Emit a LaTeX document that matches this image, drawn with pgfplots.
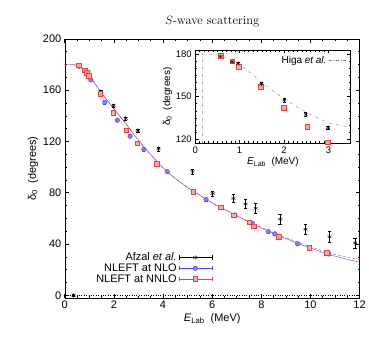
\documentclass[border=0pt]{standalone}
\usepackage{pgfplots}
\pgfplotsset{compat=1.18}
\usepackage{fontspec}
\setsansfont{Liberation Sans}
\definecolor{nblue}{RGB}{70,70,255}
\definecolor{nred}{RGB}{250,60,60}
\pgfplotsset{errleg/.style={legend image code/.code={%
  \draw[##1,mark=none,solid] (0pt,-2.2pt)--(0pt,2.2pt) (0pt,0pt)--(33pt,0pt) (33pt,-2.2pt)--(33pt,2.2pt);
  \draw[##1,only marks] plot coordinates {(16.5pt,0pt)};}}}
\begin{document}
\begin{tikzpicture}
\begin{axis}[name=main, scale only axis, width=296pt, height=260pt,
  xmin=0, xmax=12, ymin=-2, ymax=200,
  xtick={0,2,...,12}, ytick={0,40,...,200},
  minor x tick num=3, minor y tick num=3,
  tick align=inside, major tick length=4pt, minor tick length=2pt,
  tick style={black, line width=0.5pt},
  /pgf/number format/assume math mode=true,
  tick label style={font=\sffamily\fontsize{11}{13}\selectfont},
  label style={font=\sffamily\fontsize{11}{13}\selectfont},
  title={$S$-wave scattering},
  title style={font=\fontsize{12.5}{14}\selectfont, yshift=2pt},
  xlabel={\textit{E}\textsubscript{Lab}\ \ (MeV)},
  ylabel={δ\textsubscript{0}\ \ (degrees)},
  xlabel style={yshift=2pt},
  ylabel style={yshift=-2pt},
  legend style={draw=none, fill=none, at={(rel axis cs:0.51,0.19)}, anchor=north east,
    font=\sffamily\fontsize{11}{11}\selectfont, row sep=-2.5pt},
  legend cell align=right, legend plot pos=right,
]
\addplot[black, dotted, forget plot] coordinates {(0,0) (12,0)};
\addplot[nblue, thin, forget plot] coordinates {
(0,180)(0.3,180)(0.5,179.3)(0.75,176.5)(1,171)(1.25,164.5)(1.5,157.5)(2,145.5)(2.5,133.5)(3,121)(3.5,109.5)(4,99.5)(4.5,91)(5,84)(5.5,78)(6,72)(6.5,67)(7,62)(7.5,57)(8,52.5)(8.5,48.2)(9,44.2)(9.5,40.3)(10,36.8)(10.5,33.5)(11,30.5)(11.5,28)(12,25.8)};
\addplot[nred, densely dashed, forget plot] coordinates {
(0,180)(0.3,180)(0.5,179.5)(0.75,176.5)(1,171)(1.25,164.5)(1.5,157.5)(2,145.5)(2.5,133.5)(3,121)(3.5,109.5)(4,99.5)(4.5,91)(5,84)(5.5,78)(6,72)(6.5,67)(7,62.2)(7.5,57.4)(8,53)(8.5,48.8)(9,44.9)(9.5,41.2)(10,37.8)(10.5,34.7)(11,31.8)(11.5,29.8)(12,27.8)};
\addplot[black, only marks, mark=asterisk, mark size=2.3pt, errleg,
  error bars/.cd, y dir=both, y explicit, error mark options={rotate=90, mark size=1.8pt}]
  table[x=x, y=y, y error=e] {
x y e
0.36 0 0.5
0.58 178.6 1
0.83 174.6 1
0.97 173.4 1
1.47 158.8 1.2
1.99 147.7 1.2
2.48 137.9 1.2
2.97 128.4 1.2
3.82 114.2 1.5
5.20 96.6 1.8
6.02 79.4 2
6.87 75.5 3
7.36 71.1 3.5
7.77 67.8 4
8.77 59.3 4
9.80 51.5 4
10.78 45.6 4
11.82 40.8 4
};
\addlegendentry{Afzal \textit{et al.}}
\addplot[nblue, only marks, mark=*, mark size=2.3pt, mark options={fill=nblue!70}, errleg,
  error bars/.cd, y dir=both, y explicit, error mark options={rotate=90, mark size=1.6pt}]
  table[x=x, y=y, y error=e] {
x y e
0.59 178.6 1
0.85 174.5 1
0.94 172.0 1
1.06 168.0 1
1.63 150.5 1.5
2.14 136.5 1
2.66 124.0 1
3.22 113.7 1
4.17 96.5 1
5.75 74.7 1
6.92 62.6 1
7.64 56.0 1
8.28 49.7 1
8.55 47.9 1
9.48 40.2 1
10.75 32.2 1
};
\addlegendentry{NLEFT at NLO}
\addplot[nred, only marks, mark=square*, mark size=2.3pt, mark options={fill=nred!45}, errleg,
  error bars/.cd, y dir=both, y explicit, error mark options={rotate=90, mark size=1.6pt}]
  table[x=x, y=y, y error=e] {
x y e
0.57 179.3 1
0.81 175.5 1
0.90 173.5 1
0.98 171.2 1
1.45 157.2 1.5
1.97 142.3 1.5
2.50 128.8 1.5
2.95 118.5 1.5
3.75 102.6 1
5.22 80.7 1.5
6.34 68.6 1
6.88 62.6 1
7.50 57.0 1
7.70 54.0 1
8.70 45.5 1
9.95 36.9 1
10.65 33.0 1
};
\addlegendentry{NLEFT at NNLO}
\end{axis}
\begin{axis}[at={(main.north west)}, anchor=north west, xshift=131pt, yshift=-11pt,
  scale only axis, width=156pt, height=94pt,
  xmin=0, xmax=3.5, ymin=117, ymax=183,
  xtick={0,1,2,3}, ytick={120,150,180},
  minor x tick num=9, minor y tick num=5,
  tick align=inside, major tick length=3.5pt, minor tick length=2pt,
  tick style={black, line width=0.5pt},
  axis background/.style={fill=white},
  /pgf/number format/assume math mode=true,
  tick label style={font=\sffamily\fontsize{9.5}{11}\selectfont},
  label style={font=\sffamily\fontsize{10}{12}\selectfont},
  xlabel={\textit{E}\textsubscript{Lab}\ \ (MeV)},
  ylabel={δ\textsubscript{0}\ \ (degrees)},
  xlabel style={yshift=3pt},
  ylabel style={yshift=-3pt},
  legend style={draw=none, fill=none, at={(rel axis cs:0.99,0.98)}, anchor=north east,
    font=\sffamily\fontsize{10}{11}\selectfont},
  legend cell align=right, legend plot pos=right,
]
\addplot[gray, dash dot, thin] coordinates {
(0.16,117)(0.16,180)(0.3,180)(0.5,179.4)(0.7,177.5)(1,172.5)(1.25,166.5)(1.5,160)(1.75,154)(2,148.5)(2.25,143.5)(2.5,139)(2.75,135)(3,131.5)(3.25,129.8)(3.5,128.5)};
\addlegendentry{Higa \textit{et al.}}
\addplot[nred, only marks, mark=square*, mark size=2.3pt, mark options={fill=nred!45}, forget plot,
  error bars/.cd, y dir=both, y explicit, error mark options={rotate=90, mark size=1.6pt}]
  table[x=x, y=y, y error=e] {
x y e
0.57 179.0 1
0.83 175.0 1
0.98 171.2 1
1.47 157.0 1.5
1.99 142.2 1.5
2.52 128.8 1.5
2.98 118.0 1.5
};
\addplot[black, only marks, mark=asterisk, mark size=2.2pt, forget plot,
  error bars/.cd, y dir=both, y explicit, error mark options={rotate=90, mark size=1.6pt}]
  table[x=x, y=y, y error=e] {
x y e
0.57 178.3 1
0.83 174.6 1
0.97 173.4 1
1.49 158.8 1.2
2.01 147.6 1.2
2.49 137.5 1.2
2.99 128.0 1.2
};
\end{axis}
\path ([shift={(-65pt,-40pt)}]main.south west) rectangle ([shift={(8pt,39pt)}]main.north east);
\end{tikzpicture}
\end{document}
